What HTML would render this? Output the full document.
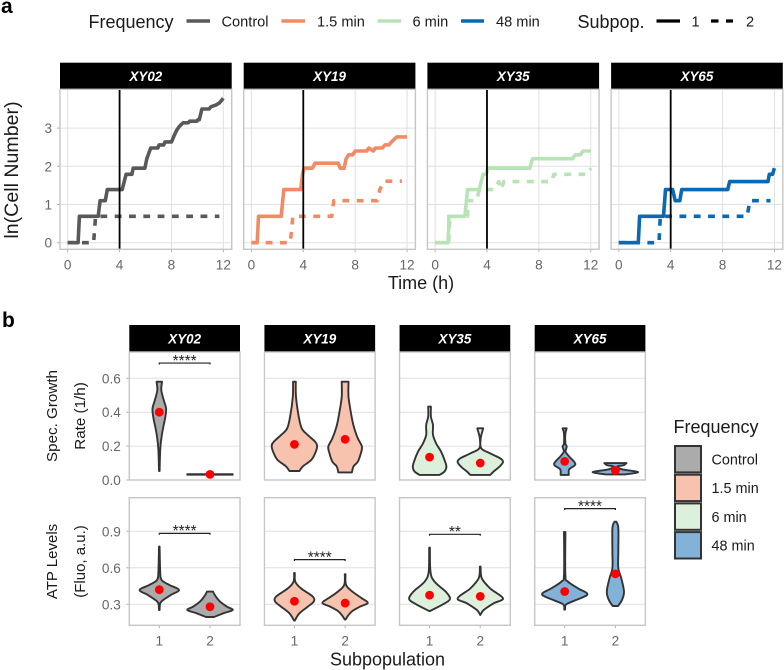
<!DOCTYPE html>
<html><head><meta charset="utf-8">
<style>
html,body{margin:0;padding:0;background:#fff}
svg{display:block;font-family:"Liberation Sans",Arial,sans-serif}
</style></head>
<body>
<svg id="fig" width="784" height="670" viewBox="0 0 784 670" xmlns="http://www.w3.org/2000/svg">
<text x="1" y="13" font-size="21" font-weight="bold">a</text>
<text x="2" y="327" font-size="21" font-weight="bold">b</text>
<g fill="#1a1a1a">
<text x="88.5" y="28" font-size="18">Frequency</text>
<line x1="186.5" x2="210" y1="21" y2="21" stroke="#595959" stroke-width="3.5"/>
<text x="221.5" y="26.5" font-size="14.6">Control</text>
<line x1="281.5" x2="305" y1="21" y2="21" stroke="#F08B65" stroke-width="3.5"/>
<text x="317" y="26.5" font-size="14.6">1.5 min</text>
<line x1="377.5" x2="401" y1="21" y2="21" stroke="#B8E3B5" stroke-width="3.5"/>
<text x="412.5" y="26.5" font-size="14.6">6 min</text>
<line x1="461" x2="484" y1="21" y2="21" stroke="#0A69B2" stroke-width="3.5"/>
<text x="496" y="26.5" font-size="14.6">48 min</text>
<text x="577.5" y="28" font-size="18">Subpop.</text>
<line x1="656.5" x2="680" y1="21" y2="21" stroke="#000" stroke-width="3.2"/>
<text x="691.5" y="26.5" font-size="14.6">1</text>
<line x1="711" x2="733" y1="21" y2="21" stroke="#000" stroke-width="3.2" stroke-dasharray="7.5 7.5"/>
<text x="746" y="26.5" font-size="14.6">2</text>
</g>
<text transform="translate(18,170) rotate(-90)" text-anchor="middle" font-size="19.6" fill="#1a1a1a">ln(Cell Number)</text>
<text x="421" y="289" text-anchor="middle" font-size="18" fill="#1a1a1a">Time (h)</text>
<text transform="translate(57,416) rotate(-90)" text-anchor="middle" font-size="15.2" fill="#1a1a1a">Spec. Growth</text>
<text transform="translate(85,416) rotate(-90)" text-anchor="middle" font-size="15.2" fill="#1a1a1a">Rate (1/h)</text>
<text transform="translate(57,561.5) rotate(-90)" text-anchor="middle" font-size="15" fill="#1a1a1a">ATP Levels</text>
<text transform="translate(85,561.5) rotate(-90)" text-anchor="middle" font-size="15" fill="#1a1a1a">(Fluo, a.u.)</text>
<text x="387.5" y="665.5" text-anchor="middle" font-size="18" fill="#1a1a1a">Subpopulation</text>
<g fill="#1a1a1a">
<text x="673.5" y="433" font-size="18">Frequency</text>
<rect x="675" y="446" width="26" height="26.4" fill="#ABABAB" stroke="#333" stroke-width="2"/>
<text x="711.5" y="464.5" font-size="14.4">Control</text>
<rect x="675" y="474.7" width="26" height="26.4" fill="#F7C3AE" stroke="#333" stroke-width="2"/>
<text x="711.5" y="493" font-size="14.4">1.5 min</text>
<rect x="675" y="503.4" width="26" height="26.4" fill="#DCF0DB" stroke="#333" stroke-width="2"/>
<text x="711.5" y="522" font-size="14.4">6 min</text>
<rect x="675" y="532.1" width="26" height="26.4" fill="#82B2D7" stroke="#333" stroke-width="2"/>
<text x="711.5" y="550.5" font-size="14.4">48 min</text>
</g>
</svg>
<script>
const samples = ["XY02", "XY19", "XY35", "XY65"];
const lineColors = ["#595959", "#F08B65", "#B8E3B5", "#0A69B2"];
const fillColors = ["#ABABAB", "#F7C3AE", "#DCF0DB", "#82B2D7"];
const timeTicks = [0, 4, 8, 12];
const cellTicks = [0, 1, 2, 3];
const growthTicks = ["0.0", "0.2", "0.4", "0.6"];
const atpTicks = ["0.3", "0.6", "0.9"];
const subpopTicks = ["1", "2"];
const switchTime = 4;

const cellSolid = [
  [[0,0],[0.8,0],[0.9,0.69],[2.35,0.69],[2.5,1.1],[2.9,1.1],[3.05,1.39],[4.2,1.39],[4.5,1.79],[4.95,1.79],[5.05,1.95],[5.95,1.95],[6.1,2.2],[6.4,2.48],[6.95,2.48],[7.05,2.56],[7.4,2.56],[7.5,2.64],[8,2.64],[8.2,2.8],[8.4,2.94],[8.6,3.04],[8.9,3.14],[9.3,3.14],[9.4,3.18],[9.95,3.18],[10.05,3.22],[10.15,3.22],[10.35,3.5],[10.9,3.5],[11.05,3.56],[11.4,3.6],[11.7,3.66],[12,3.78]],
  [[0,0],[0.45,0],[0.55,0.69],[2.3,0.69],[2.5,1.39],[3.8,1.39],[3.95,1.79],[4.05,1.95],[4.7,1.95],[4.9,2.08],[6.7,2.08],[6.85,1.95],[7.15,1.95],[7.3,2.2],[7.5,2.3],[7.8,2.3],[8,2.4],[8.9,2.4],[9.05,2.48],[9.4,2.4],[9.55,2.48],[10.1,2.48],[10.3,2.56],[10.6,2.56],[10.8,2.64],[11.2,2.77],[12,2.77]],
  [[0,0],[1,0],[1.05,0.4],[1.05,0.69],[2.3,0.69],[2.5,1.39],[3.4,1.39],[3.7,1.79],[3.95,1.79],[4.05,1.95],[7.3,1.95],[7.5,2.2],[10.6,2.2],[10.8,2.3],[11.2,2.3],[11.4,2.4],[12,2.4]],
  [[0,0],[1.5,0],[1.6,0.69],[3.45,0.69],[3.6,1.39],[4.15,1.39],[4.35,1.1],[4.7,1.1],[4.85,1.39],[8.4,1.39],[8.55,1.6],[11.5,1.6],[11.6,1.79],[11.85,1.79],[12,1.95]]
];
const cellDashed = [
  [[0,0],[2,0],[2.15,0.69],[11.7,0.69]],
  [[0,0],[3,0],[3.2,0.69],[6.2,0.69],[6.35,1.1],[9.7,1.1],[9.9,1.39],[10.2,1.61],[11.6,1.61]],
  [[0,0],[1.05,0],[1.15,0.69],[2.5,0.69],[2.55,1.1],[3.2,1.1],[3.4,1.39],[4.6,1.39],[4.9,1.6],[5.1,1.39],[5.3,1.6],[9,1.6],[9.15,1.79],[11.8,1.79],[12,1.95]],
  [[0,0],[3.1,0],[3.2,0.69],[9.9,0.69],[10.1,1.1],[11.7,1.1]]
];

const growthViolins = [
  [[[0.053,0.015],[0.177,0.04],[0.256,0.1],[0.315,0.18],[0.374,0.27],[0.423,0.3],[0.47,0.2],[0.53,0.09],[0.58,0.12]],
   [[0.031,1],[0.034,1]]],
  [[[0.053,0.22],[0.08,0.37],[0.118,0.74],[0.157,0.91],[0.2,1],[0.226,0.91],[0.265,0.59],[0.305,0.32],[0.374,0.19],[0.49,0.07],[0.58,0.06]],
   [[0.045,0.3],[0.08,0.37],[0.108,0.56],[0.157,0.69],[0.197,0.74],[0.246,0.56],[0.315,0.38],[0.393,0.26],[0.49,0.15],[0.58,0.15]]],
  [[[0.03,0.44],[0.05,0.66],[0.079,0.74],[0.118,0.66],[0.167,0.51],[0.216,0.29],[0.266,0.15],[0.325,0.15],[0.374,0.06],[0.433,0.06]],
   [[0.03,0.44],[0.05,0.59],[0.079,0.85],[0.106,1],[0.128,0.88],[0.157,0.44],[0.187,0.04],[0.246,0.02],[0.305,0.13]]],
  [[[0.03,0.18],[0.063,0.2],[0.094,0.47],[0.138,0.2],[0.167,0.04],[0.197,0.09],[0.216,0.03],[0.275,0.03],[0.305,0.09]],
   [[0.033,0.44],[0.047,1],[0.063,0.29],[0.079,0.08],[0.088,0.37],[0.1,0.49]]]
];
const atpViolins = [
  [[[0.253,0.015],[0.308,0.04],[0.336,0.18],[0.377,0.51],[0.418,0.87],[0.459,0.44],[0.5,0.1],[0.568,0.04],[0.774,0.015]],
   [[0.196,0.18],[0.226,0.59],[0.253,1],[0.281,0.74],[0.322,0.44],[0.363,0.26],[0.404,0.13]]],
  [[[0.166,0.015],[0.226,0.22],[0.281,0.59],[0.322,0.85],[0.363,0.81],[0.431,0.29],[0.486,0.04],[0.558,0.015]],
   [[0.174,0.015],[0.212,0.15],[0.245,0.32],[0.281,0.66],[0.311,1],[0.349,0.74],[0.404,0.32],[0.459,0.04],[0.547,0.015]]],
  [[[0.245,0.015],[0.3,0.59],[0.344,0.9],[0.404,0.71],[0.486,0.22],[0.568,0.04],[0.766,0.015]],
   [[0.212,0],[0.253,0.15],[0.308,0.59],[0.349,1],[0.43,0.44],[0.514,0.07],[0.61,0.015]]],
  [[[0.256,0.015],[0.3,0.07],[0.336,0.51],[0.382,1],[0.431,0.59],[0.486,0.15],[0.541,0.03],[0.895,0.03]],
   [[0.286,0.12],[0.336,0.29],[0.404,0.38],[0.514,0.26],[0.596,0.13],[0.733,0.13],[0.925,0.13],[0.979,0.04]]]
];
const growthMeans = [[0.40,0.033],[0.21,0.24],[0.135,0.10],[0.11,0.057]];
const atpMeans = [[0.42,0.28],[0.325,0.31],[0.375,0.365],[0.405,0.55]];
const growthBrackets = [[0.69,"****"],null,null,null];
const atpBrackets = [[0.883,"****"],[0.667,"****"],[0.875,"**"],[1.086,"****"]];

const svg = document.getElementById('fig');
const NS = 'http://www.w3.org/2000/svg';
function mk(parent, tag, attrs, txt){
  const e = document.createElementNS(NS, tag);
  for (const k in attrs) e.setAttribute(k, attrs[k]);
  if (txt !== undefined) e.textContent = txt;
  parent.appendChild(e);
  return e;
}
const GRID = '#E0E0E0', BORDER = '#C6C6C6', TICK = '#B3B3B3', AXT = '#666666';

/* smooth curve through pixel points (Catmull-Rom), continuing an open path */
function smoothSeg(pts){
  let s = '';
  for (let k = 0; k < pts.length - 1; k++) {
    const p0 = pts[Math.max(k-1,0)], p1 = pts[k], p2 = pts[k+1], p3 = pts[Math.min(k+2,pts.length-1)];
    const c1x = p1[0] + (p2[0]-p0[0])/6, c1y = p1[1] + (p2[1]-p0[1])/6;
    const c2x = p2[0] - (p3[0]-p1[0])/6, c2y = p2[1] - (p3[1]-p1[1])/6;
    s += ' C' + c1x.toFixed(1) + ' ' + c1y.toFixed(1) + ' ' + c2x.toFixed(1) + ' ' + c2y.toFixed(1) + ' ' + p2[0].toFixed(1) + ' ' + p2[1].toFixed(1);
  }
  return s;
}

/* panel a */
function drawTimePanel(i){
  const L = 60 + i * 183.7, W = 171.7, T = 89.3, B = 249.3, ST = 62.7;
  const x = t => L + 7.7 + t * 12.97;
  const y = v => 242.7 - v * 38.2;
  const g = mk(svg, 'g', {});
  
  
  const strip = mk(g, 'rect', {x:L, y:ST, width:W, height:T-ST, fill:'#000'});
  
  
  const title = mk(g, 'text', {x:L+W/2, y:81, 'text-anchor':'middle', fill:'#fff', 'font-size':13.4, 'font-weight':'bold', 'font-style':'italic'}, samples[i]);
  
  
  cellTicks.forEach(v => {
    const l = mk(g, 'line', {x1:L, x2:L+W, y1:y(v), y2:y(v), stroke:GRID, 'stroke-width':1});
    
    
    if (i === 0) {
      const t = mk(g, 'line', {x1:L-3, x2:L, y1:y(v), y2:y(v), stroke:TICK, 'stroke-width':1});
      
      
      const tl = mk(g, 'text', {x:L-8, y:y(v)+5, 'text-anchor':'end', fill:AXT, 'font-size':13.6}, v);
      
      
    }
  });
  timeTicks.forEach(v => {
    const l = mk(g, 'line', {x1:x(v), x2:x(v), y1:T, y2:B, stroke:GRID, 'stroke-width':1});
    
    
    const t = mk(g, 'line', {x1:x(v), x2:x(v), y1:B, y2:B+3, stroke:TICK, 'stroke-width':1});
    
    
    const tl = mk(g, 'text', {x:x(v), y:269.5, 'text-anchor':'middle', fill:AXT, 'font-size':13.6}, v);
    
    
  });
  const d2 = mk(g, 'polyline', {points:cellDashed[i].map(p => x(p[0]).toFixed(1)+','+y(p[1]).toFixed(1)).join(' '), fill:'none', stroke:lineColors[i], 'stroke-width':3.6, 'stroke-dasharray':'6.8 7.5', 'stroke-linejoin':'round'});
  
  
  const d1 = mk(g, 'polyline', {points:cellSolid[i].map(p => x(p[0]).toFixed(1)+','+y(p[1]).toFixed(1)).join(' '), fill:'none', stroke:lineColors[i], 'stroke-width':3.6, 'stroke-linejoin':'round'});
  
  
  const v = mk(g, 'line', {x1:x(switchTime), x2:x(switchTime), y1:T, y2:B, stroke:'#000', 'stroke-width':1.8});
  
  
  const b = mk(g, 'rect', {x:L, y:T, width:W, height:B-T, fill:'none', stroke:BORDER, 'stroke-width':1.4});
  
  
}

/* panel b */
function drawViolinPanel(i, opt){
  const L = 129.3 + i * 135.13, W = 110.7, T = opt.top, B = opt.bottom;
  const x = c => L + 30 + c * 50.7;
  const y = opt.y;
  const g = mk(svg, 'g', {});
  
  
  if (opt.strip) {
    const strip = mk(g, 'rect', {x:L, y:325, width:W, height:27, fill:'#000'});
    
    
    const title = mk(g, 'text', {x:L+W/2, y:343.5, 'text-anchor':'middle', fill:'#fff', 'font-size':13.4, 'font-weight':'bold', 'font-style':'italic'}, samples[i]);
    
    
  }
  opt.ticks.forEach(s => {
    const v = parseFloat(s);
    const l = mk(g, 'line', {x1:L, x2:L+W, y1:y(v), y2:y(v), stroke:GRID, 'stroke-width':1});
    
    
    if (i === 0) {
      const t = mk(g, 'line', {x1:L-3, x2:L, y1:y(v), y2:y(v), stroke:TICK, 'stroke-width':1});
      
      
      const tl = mk(g, 'text', {x:L-8.5, y:y(v)+5, 'text-anchor':'end', fill:AXT, 'font-size':13.6}, s);
      
      
    }
  });
  opt.violins[i].forEach((d, c) => {
    const cx = x(c);
    const right = d.map(p => [cx + p[1] * 22.7, y(p[0])]);
    const left = d.slice().reverse().map(p => [cx - p[1] * 22.7, y(p[0])]);
    const path = 'M' + right[0][0].toFixed(1) + ' ' + right[0][1].toFixed(1) + smoothSeg(right) +
      ' L' + left[0][0].toFixed(1) + ' ' + left[0][1].toFixed(1) + smoothSeg(left) + ' Z';
    const vp = mk(g, 'path', {d:path, fill:fillColors[i], stroke:'#333', 'stroke-width':1.9, 'stroke-linejoin':'round'});
    
    
    const m = mk(g, 'circle', {cx:cx, cy:y(opt.means[i][c]), r:4.4, fill:'#FF0000'});
    
    
    if (opt.xlabels) {
      const t = mk(g, 'line', {x1:cx, x2:cx, y1:B, y2:B+3, stroke:TICK, 'stroke-width':1});
      
      
      const tl = mk(g, 'text', {x:cx, y:645.5, 'text-anchor':'middle', fill:AXT, 'font-size':13.6}, subpopTicks[c]);
      
      
    }
  });
  const br = opt.brackets[i];
  if (br) {
    const by = y(br[0]);
    const p = mk(g, 'polyline', {points:[x(0),by+1.4,x(0),by,x(1),by,x(1),by+1.4].join(' '), fill:'none', stroke:'#222', 'stroke-width':1.2});
    
    
    const s = mk(g, 'text', {x:(x(0)+x(1))/2, y:by+2.8, 'text-anchor':'middle', fill:'#222', 'font-size':15.4}, br[1]);
    
    
  }
  const b = mk(g, 'rect', {x:L, y:T, width:W, height:B-T, fill:'none', stroke:BORDER, 'stroke-width':1.4});
  
  
}

samples.forEach((s, i) => {
  drawTimePanel(i);
  drawViolinPanel(i, {name:'growth-rate', top:352, bottom:480, strip:true, xlabels:false, ticks:growthTicks,
    violins:growthViolins, means:growthMeans, brackets:growthBrackets, y:v => 480 - v * 169.5});
  drawViolinPanel(i, {name:'atp-levels', top:497.7, bottom:625.3, strip:false, xlabels:true, ticks:atpTicks,
    violins:atpViolins, means:atpMeans, brackets:atpBrackets, y:v => 604.3 - (v - 0.3) * 121.7});
});
</script>
</body></html>
